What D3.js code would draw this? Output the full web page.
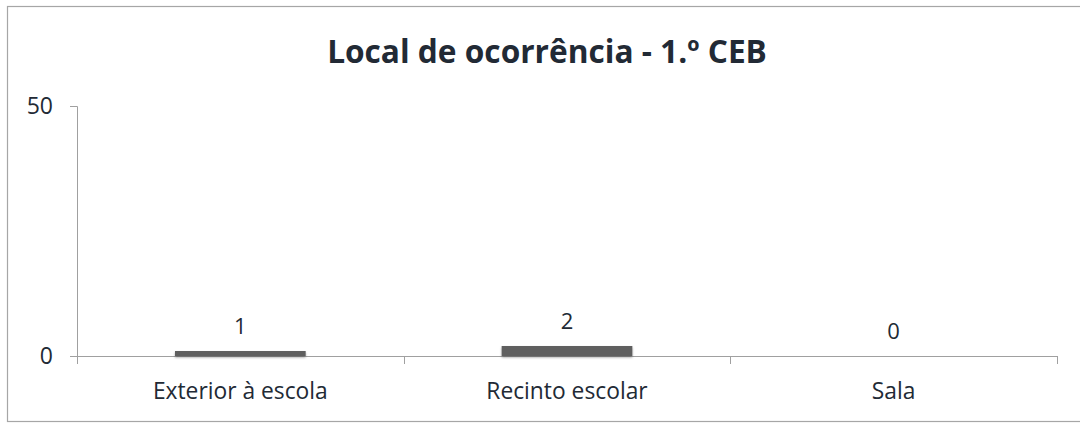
<!DOCTYPE html>
<html>
<head>
<meta charset="utf-8">
<script src="https://cdn.jsdelivr.net/npm/d3@7"></script>
<style>
  body { margin: 0; background: #fff; }
  text { font-family: "Open Sans", sans-serif; fill: #222a35; }
</style>
</head>
<body>
<svg id="svg" width="1080" height="423"></svg>
<script>
// chart data
var categories = ["Exterior à escola", "Recinto escolar", "Sala"];
var values = [1, 2, 0];
var yTicks = [0, 50];
var title = "Local de ocorrência - 1.º CEB";

var svg = d3.select("#svg");

var mLeft = 77, mRight = 1057, mTop = 106, mBottom = 356;

// pick a font size so a text gets a given width
function fitSize(sel, base, target) {
    sel.style("font-size", base + "px");
    var w = sel.node().getComputedTextLength();
    return base * target / w;
}

// chart frame
svg.append("rect")
    .attr("x", 7.5).attr("y", 6.5)
    .attr("width", 1080).attr("height", 415)
    .attr("fill", "none").attr("stroke", "#a6a6a6").attr("stroke-width", 1.2);

var x = d3.scaleBand()
    .domain(categories)
    .range([mLeft, mRight])
    .paddingInner(0.6)
    .paddingOuter(0.3);

var y = d3.scaleLinear()
    .domain([0, 50])
    .range([mBottom, mTop]);

// shadow filter for bars
var defs = svg.append("defs");
var f = defs.append("filter").attr("id", "shadow")
    .attr("x", "-10%").attr("y", "-50%").attr("width", "120%").attr("height", "250%");
f.append("feDropShadow").attr("dx", 0).attr("dy", 1.5).attr("stdDeviation", 1.2)
    .attr("flood-color", "#000").attr("flood-opacity", 0.35);

// y axis
var yAxis = svg.append("g")
    .attr("transform", "translate(" + mLeft + ",0)")
    .call(d3.axisLeft(y).tickValues(yTicks).tickSize(7).tickPadding(17));
yAxis.attr("font-size", null).attr("font-family", null);
yAxis.select(".domain").attr("stroke", "#a0a0a0").attr("d", "M-7," + (mTop + 0.5) + "H0.5V" + (mBottom + 8));
yAxis.selectAll(".tick line").attr("stroke", "#a0a0a0");
yAxis.selectAll(".tick text").style("font-size", "23px").attr("fill", "#222a35");

// x axis
var step = (mRight - mLeft) / categories.length;
var xg = svg.append("g").attr("transform", "translate(0," + mBottom + ")");
xg.append("line").attr("x1", mLeft - 7).attr("x2", mRight).attr("y1", 0.5).attr("y2", 0.5)
    .attr("stroke", "#a0a0a0");
xg.selectAll("line.tk")
    .data(d3.range(1, categories.length + 1))
    .enter().append("line").attr("class", "tk")
    .attr("x1", function(i) { return Math.round(mLeft + i * step) + 0.5; })
    .attr("x2", function(i) { return Math.round(mLeft + i * step) + 0.5; })
    .attr("y1", 0).attr("y2", 8)
    .attr("stroke", "#a0a0a0");
var catLabels = xg.selectAll("text")
    .data(categories)
    .enter().append("text")
    .attr("x", function(d) { return x(d) + x.bandwidth() / 2; })
    .attr("y", 43)
    .attr("text-anchor", "middle")
    .text(function(d) { return d; });
var catSize = fitSize(d3.select(catLabels.nodes()[0]), 17, 175);
catLabels.style("font-size", catSize + "px");

// bars
svg.selectAll("rect.bar")
    .data(values)
    .enter().append("rect").attr("class", "bar")
    .attr("x", function(d, i) { return x(categories[i]); })
    .attr("y", function(d) { return y(d); })
    .attr("width", x.bandwidth())
    .attr("height", function(d) { return mBottom - y(d); })
    .attr("fill", "#5f5f5f")
    .attr("filter", "url(#shadow)");

// value labels
svg.selectAll("text.val")
    .data(values)
    .enter().append("text").attr("class", "val")
    .attr("x", function(d, i) { return x(categories[i]) + x.bandwidth() / 2; })
    .attr("y", function(d) { return y(d) - 17; })
    .attr("text-anchor", "middle")
    .style("font-size", "22px")
    .text(function(d) { return d; });

// title
var t = svg.append("text")
    .attr("x", 547).attr("y", 63)
    .attr("text-anchor", "middle")
    .style("font-weight", "bold")
    .text(title);
t.style("font-size", fitSize(t, 24, 440) + "px");
</script>
</body>
</html>
